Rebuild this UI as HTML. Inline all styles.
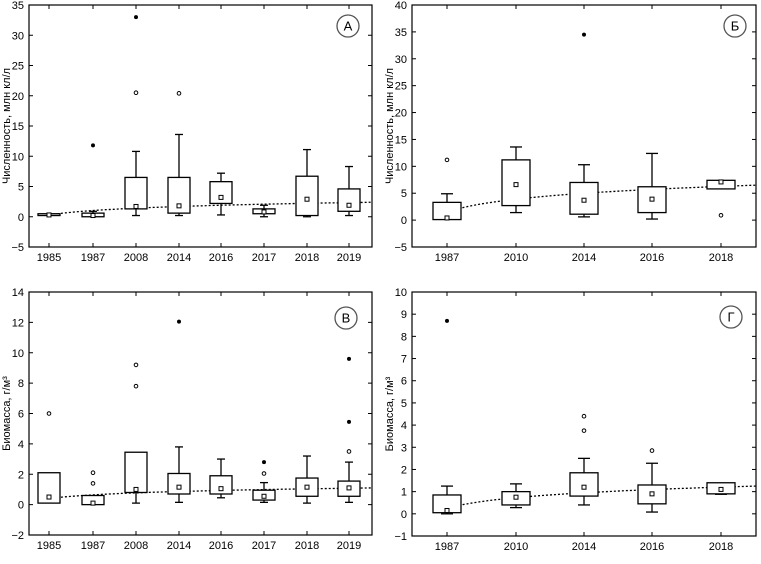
<!DOCTYPE html>
<html><head><meta charset="utf-8"><style>
html,body{margin:0;padding:0;background:#fff;}
svg{display:block;font-family:"Liberation Sans","DejaVu Sans",sans-serif;}
</style></head><body>
<svg id="s" width="761" height="564" viewBox="0 0 761 564" xmlns="http://www.w3.org/2000/svg"></svg>
<script>
const S=document.getElementById('s');let h='';
function panel(p){
 const {x0,x1,yTop,yBot,vTop,vBot,step,cats,cx,bw,cap,data,trend,letter,lx,ly,title}=p;
 const Y=v=>yBot+(v-vBot)*(yTop-yBot)/(vTop-vBot);
 h+=`<rect x="${x0}" y="${yTop}" width="${x1-x0}" height="${yBot-yTop}" fill="none" stroke="#000" stroke-width="1.2"/>`;
 for(let v=vBot;v<=vTop+1e-9;v+=step){const y=Y(v);
  h+=`<line x1="${x0}" y1="${y}" x2="${x0+4}" y2="${y}" stroke="#000"/><line x1="${x1}" y1="${y}" x2="${x1-4}" y2="${y}" stroke="#000"/>`;
  h+=`<text x="${x0-5}" y="${y+4}" font-size="11" text-anchor="end">${v<0?'\u2212'+(-v):v}</text>`;}
 cats.forEach((c,i)=>{const x=cx[i];
  h+=`<line x1="${x}" y1="${yBot}" x2="${x}" y2="${yBot-4}" stroke="#000"/><line x1="${x}" y1="${yTop}" x2="${x}" y2="${yTop+4}" stroke="#000"/>`;
  h+=`<text x="${x}" y="${yBot+14}" font-size="11" text-anchor="middle">${c}</text>`;});
 // trend
 let pts=[];for(let t=0;t<=40;t++){const x=trend.xs+(x1-trend.xs)*t/40;const f=Math.log(1+9*t/40)/Math.log(10);pts.push(x.toFixed(1)+','+Y(trend.a+(trend.b-trend.a)*f).toFixed(1));}
 h+=`<polyline points="${pts.join(' ')}" fill="none" stroke="#000" stroke-width="1.3" stroke-dasharray="2,2"/>`;
 data.forEach((d,i)=>{const x=cx[i];const [q1,q3,lo,hi,m,out,ext]=d;
  if(hi!=null&&hi>q3){h+=`<line x1="${x}" y1="${Y(q3)}" x2="${x}" y2="${Y(hi)}" stroke="#000" stroke-width="1.3"/><line x1="${x-cap/2}" y1="${Y(hi)}" x2="${x+cap/2}" y2="${Y(hi)}" stroke="#000" stroke-width="1.3"/>`;}
  if(lo!=null&&lo<q1){h+=`<line x1="${x}" y1="${Y(q1)}" x2="${x}" y2="${Y(lo)}" stroke="#000" stroke-width="1.3"/><line x1="${x-cap/2}" y1="${Y(lo)}" x2="${x+cap/2}" y2="${Y(lo)}" stroke="#000" stroke-width="1.3"/>`;}
  h+=`<rect x="${x-bw/2}" y="${Y(q3)}" width="${bw}" height="${Math.max(1,Y(q1)-Y(q3))}" fill="#fff" stroke="#000" stroke-width="1.3"/>`;
  h+=`<rect x="${x-2}" y="${Y(m)-2}" width="4" height="4" fill="#fff" stroke="#000" stroke-width="1"/>`;
  (out||[]).forEach(v=>h+=`<circle cx="${x}" cy="${Y(v)}" r="1.8" fill="#fff" stroke="#000" stroke-width="1"/>`);
  (ext||[]).forEach(v=>h+=`<circle cx="${x}" cy="${Y(v)}" r="2" fill="#000"/>`);
 });
 h+=`<circle cx="${lx}" cy="${ly}" r="11" fill="#fff" stroke="#555" stroke-width="1.3"/><text x="${lx}" y="${ly+4.5}" font-size="13" text-anchor="middle">${letter}</text>`;
 const my=(yTop+yBot)/2;
 h+=`<text transform="translate(${x0-19},${my}) rotate(-90)" font-size="11" text-anchor="middle">${title}</text>`;
}
const cxA=[49,93,136,179,221,264,307,349], cxB=[447,516,584,652,721];
const ya=['1985','1987','2008','2014','2016','2017','2018','2019'], yb=['1987','2010','2014','2016','2018'];
panel({x0:29,x1:372,yTop:5,yBot:247,vTop:35,vBot:-5,step:5,cats:ya,cx:cxA,bw:22,cap:8,letter:'А',lx:348,ly:26,title:'Численность, млн кл/л',
 trend:{xs:49,a:0.3,b:2.4},
 data:[[0.2,0.5,null,null,0.3],[0,0.6,null,0.9,0.2,[],[11.8]],[1.3,6.5,0.2,10.8,1.7,[20.5],[33]],[0.6,6.5,0.2,13.6,1.8,[20.4]],[2.2,5.8,0.3,7.2,3.2],[0.5,1.3,0,1.9,0.8],[0.2,6.7,0,11.1,2.9],[0.9,4.6,0.2,8.3,1.9]]});
panel({x0:412,x1:756,yTop:5,yBot:247,vTop:40,vBot:-5,step:5,cats:yb,cx:cxB,bw:28,cap:12,letter:'Б',lx:735,ly:26,title:'Численность, млн кл/л',
 trend:{xs:447,a:1.5,b:6.5},
 data:[[0.1,3.3,null,4.9,0.4,[11.2]],[2.7,11.2,1.4,13.6,6.6],[1.1,7.0,0.6,10.3,3.7,[],[34.5]],[1.4,6.2,0.2,12.4,3.9],[5.8,7.4,null,null,7.1,[0.9]]]});
panel({x0:29,x1:372,yTop:292,yBot:535,vTop:14,vBot:-2,step:2,cats:ya,cx:cxA,bw:22,cap:8,letter:'В',lx:346,ly:318,title:'Биомасса,  г/м³',
 trend:{xs:49,a:0.4,b:1.1},
 data:[[0.1,2.1,null,null,0.5,[6.0]],[0,0.6,null,null,0.1,[2.1,1.4]],[0.8,3.45,0.1,null,1.0,[9.2,7.8]],[0.7,2.05,0.15,3.8,1.15,[],[12.05]],[0.7,1.9,0.45,3.0,1.05],[0.3,0.95,0.15,1.45,0.55,[2.05],[2.8]],[0.55,1.75,0.1,3.2,1.15],[0.55,1.55,0.15,2.8,1.1,[3.5],[5.45,9.6]]]});
panel({x0:412,x1:756,yTop:292,yBot:536,vTop:10,vBot:-1,step:1,cats:yb,cx:cxB,bw:28,cap:12,letter:'Г',lx:731,ly:317,title:'Биомасса,  г/м³',
 trend:{xs:447,a:0.25,b:1.25},
 data:[[0.05,0.85,0,1.25,0.15,[],[8.7]],[0.4,1.0,0.28,1.35,0.75],[0.8,1.85,0.4,2.5,1.2,[4.4,3.75]],[0.45,1.3,0.08,2.28,0.9,[2.85]],[0.9,1.4,0.88,null,1.1]]});
S.innerHTML=h;
</script>
</body></html>
